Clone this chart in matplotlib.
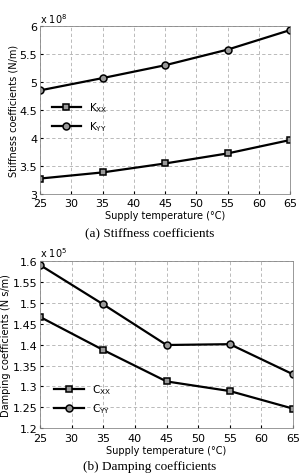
import matplotlib.pyplot as plt

temps = [25, 35, 45, 55, 65]
k_xx = [3.27, 3.38, 3.54, 3.72, 3.96]   # x 1e8 N/m
k_yy = [4.85, 5.07, 5.30, 5.58, 5.93]
c_xx = [1.466, 1.387, 1.312, 1.289, 1.247]   # x 1e5 N s/m
c_yy = [1.590, 1.496, 1.399, 1.401, 1.329]

fig = plt.figure(figsize=(2.99, 4.77), dpi=100)
ax1 = fig.add_axes([0.134, 0.592, 0.836, 0.351])
ax2 = fig.add_axes([0.134, 0.100, 0.846, 0.351])


def style(ax, ylim, yticks, ylabel, exp):
    ax.set_xlim(25, 65)
    ax.set_xticks(range(25, 66, 5))
    ax.set_ylim(*ylim)
    ax.set_yticks(yticks)
    ax.set_yticklabels([f"{v:g}" for v in yticks])
    ax.grid(True, linestyle=(0, (4, 3)), color="#b0b0b0", linewidth=0.6)
    ax.tick_params(labelsize=8, direction="in", length=2)
    ax.tick_params(axis="y", pad=2)
    ax.tick_params(axis="x", pad=3.5)
    ax.set_xlabel("Supply temperature (\u00b0C)", fontsize=7, labelpad=1)
    ax.set_ylabel(ylabel, fontsize=7, labelpad=1)
    for s in ax.spines.values():
        s.set_color("#888888")
        s.set_linewidth(0.6)
    ax.text(0.0, 1.01, r"x 10$^{%d}$" % exp, transform=ax.transAxes,
            fontsize=7, va="bottom", ha="left")


mk = dict(color="black", linewidth=1.6, markersize=5,
          markerfacecolor="#999999", markeredgecolor="black", markeredgewidth=1.1)

ax1.plot(temps, k_xx, marker="s", label=r"K$_{\mathrm{XX}}$", **mk)
ax1.plot(temps, k_yy, marker="o", label=r"K$_{\mathrm{YY}}$", **mk)
style(ax1, (3, 6), [3, 3.5, 4, 4.5, 5, 5.5, 6], "Stiffness coefficients (N/m)", 8)
ax1.legend(loc="upper left", bbox_to_anchor=(0.03, 0.58), frameon=False,
           fontsize=7.5, handlelength=2.8, labelspacing=0.5, borderaxespad=0)

ax2.plot(temps, c_xx, marker="s", label=r"C$_{\mathrm{XX}}$", **mk)
ax2.plot(temps, c_yy, marker="o", label=r"C$_{\mathrm{YY}}$", **mk)
style(ax2, (1.2, 1.6), [1.2, 1.25, 1.3, 1.35, 1.4, 1.45, 1.5, 1.55, 1.6],
      "Damping coefficients (N s/m)", 5)
ax2.legend(loc="upper left", bbox_to_anchor=(0.04, 0.30), frameon=False,
           fontsize=7.5, handlelength=2.8, labelspacing=0.5, borderaxespad=0)

fig.text(0.5, 1 - 234 / 477, "(a) Stiffness coefficients", ha="center", va="center",
         fontsize=9.5, family="Liberation Serif")
fig.text(0.5, 1 - 467 / 477, "(b) Damping coefficients", ha="center", va="center",
         fontsize=9.5, family="Liberation Serif")

fig.savefig("out.png", dpi=100)
